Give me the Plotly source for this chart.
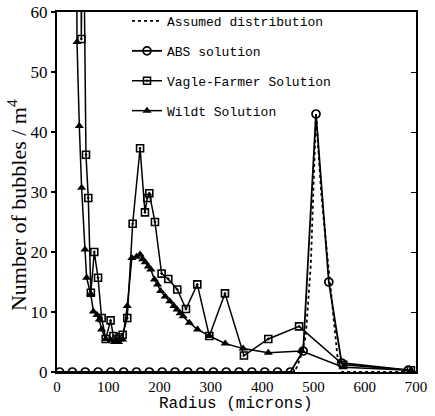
import plotly.graph_objects as go

# ---- data ----
assumed_x = [0, 460, 467, 475, 485, 495, 505, 515, 522, 535, 548, 555, 700]
assumed_y = [0, 0, 0.7, 2.5, 6, 18, 43, 30, 23.7, 12, 1.6, 0, 0]

abs_x = [5, 30, 55, 80, 105, 130, 155, 180, 205, 230, 255, 280, 305, 330, 355,
         380, 405, 430, 455, 480, 505, 530, 555, 685]
abs_y = [0] * 19 + [3.5, 43, 15, 1.5, 0.3]

vf_x = [45, 47.5, 50, 56.5, 61, 66, 72.7, 80, 87, 95, 104.5, 110, 116, 122, 128,
        137, 147.5, 162, 171.5, 176, 180, 191, 204, 217, 234.5, 251.5, 273.5,
        297, 327.5, 364.5, 412, 472, 558, 690]
vf_y = [90, 55.5, 90, 36.2, 29, 13.2, 20, 15.7, 9, 5.5, 8.6, 6, 5.5, 5.8, 6.2,
        9, 24.7, 37.3, 26.6, 29, 29.8, 25, 16.4, 15.5, 13.75, 10.5, 14.6,
        6, 13.1, 2.75, 5.5, 7.6, 1.2, 0.3]

wildt_x = [37.5, 39, 43.5, 48, 54.6, 57.8, 65.7, 71, 78, 82.5, 87, 95, 105, 112,
           120, 128, 137, 146, 155, 162, 167, 172, 178, 183, 190, 196, 202, 211,
           220, 228, 234, 240, 246, 258, 274, 297, 328, 363, 412, 477, 558, 690]
wildt_y = [90, 55, 41, 30.7, 20.4, 15.7, 13, 10.1, 9.5, 8.75, 7.1, 5.5, 5.3, 5,
           5, 5.4, 11, 19, 19.2, 19.6, 18.8, 18.3, 17.6, 17.1, 15.4, 14.6, 13.5,
           12.6, 11.8, 11, 10.4, 9.8, 9.3, 8.2, 7.1, 6, 4.75, 3.9, 3.2, 3.5, 0.8, 0.3]

x_ticks = [0, 100, 200, 300, 400, 500, 600, 700]
y_ticks = [0, 10, 20, 30, 40, 50, 60]

names = ["Assumed distribution", "ABS solution", "Vagle-Farmer Solution", "Wildt Solution"]
x_title = "Radius (microns)"
y_title = "Number of bubbles / m<sup>4</sup>"

fig = go.Figure()
fig.add_trace(go.Scatter(x=assumed_x, y=assumed_y, mode="lines", name=names[0],
                         line=dict(color="black", width=1.8, dash="dot"),
                         legendgroup="a"))
fig.add_trace(go.Scatter(x=abs_x, y=abs_y, mode="lines+markers", name=names[1],
                         line=dict(color="black", width=1.8),
                         marker=dict(symbol="circle-open", size=8, color="black",
                                     line=dict(width=1.7)),
                         legendgroup="b"))
fig.add_trace(go.Scatter(x=vf_x, y=vf_y, mode="lines+markers", name=names[2],
                         line=dict(color="black", width=1.5),
                         marker=dict(symbol="square-open-dot", size=7, color="black",
                                     line=dict(width=1.6)),
                         legendgroup="c"))
fig.add_trace(go.Scatter(x=wildt_x, y=wildt_y, mode="lines+markers", name=names[3],
                         line=dict(color="black", width=1.5),
                         marker=dict(symbol="triangle-up", size=8, color="black"),
                         legendgroup="d"))
# invisible trace to carry right-side inward ticks
fig.add_trace(go.Scatter(x=[0], y=[0], yaxis="y2", mode="markers",
                         marker=dict(opacity=0), showlegend=False, hoverinfo="skip"))

fig.update_layout(
    width=435, height=416,
    margin=dict(l=57, r=19, t=12, b=44, autoexpand=False),
    paper_bgcolor="white", plot_bgcolor="white",
    showlegend=True,
    legend=dict(x=0.195, y=0.9856, xanchor="left", yanchor="top", yref="container",
                bgcolor="rgba(0,0,0,0)", tracegroupgap=10,
                font=dict(family="Liberation Mono", size=13, color="black")),
    xaxis=dict(range=[0, 700], tickvals=x_ticks, showgrid=False, zeroline=False,
               showline=True, linecolor="black", linewidth=2, mirror=True,
               automargin=False, ticks="",
               tickfont=dict(family="Liberation Serif", size=15, color="black")),
    yaxis=dict(range=[0, 60], tickvals=y_ticks, showgrid=False, zeroline=False,
               showline=True, linecolor="black", linewidth=2, mirror=True,
               automargin=False,
               ticks="outside", ticklen=4, tickwidth=1.5, tickcolor="black",
               tickfont=dict(family="Liberation Serif", size=17, color="black")),
    yaxis2=dict(range=[0, 60], tickvals=y_ticks, overlaying="y", side="right",
                showgrid=False, zeroline=False, showticklabels=False,
                automargin=False,
                ticks="inside", ticklen=5, tickwidth=1.2, tickcolor="black"),
    annotations=[
        dict(text=x_title, xref="paper", yref="paper", x=0.499, y=-0.089,
             xanchor="center", yanchor="middle", showarrow=False,
             font=dict(family="Liberation Mono", size=16, color="black")),
        dict(text=y_title, xref="paper", yref="paper", x=-0.111, y=0.464,
             xanchor="center", yanchor="middle", showarrow=False, textangle=-90,
             font=dict(family="Liberation Serif", size=22, color="black")),
    ],
)

fig.write_html("out.html")
